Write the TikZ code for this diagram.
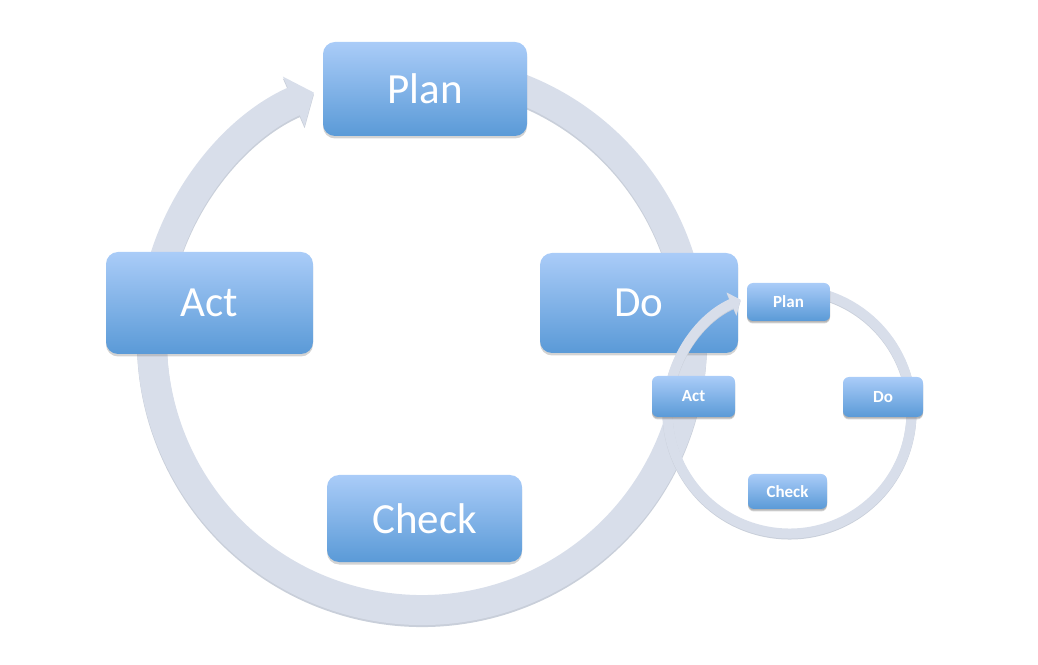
\documentclass[tikz,border=0pt]{standalone}
\usepackage{fontspec}
\setmainfont{Carlito}
\usepackage{tikz}
\usetikzlibrary{arrows.meta,shadows}
\definecolor{boxtop}{HTML}{AACCF8}
\definecolor{boxbot}{HTML}{5A9AD7}
\definecolor{ring}{HTML}{D8DEEA}
\definecolor{ringedge}{HTML}{C9CFDA}

\begin{document}
\begin{tikzpicture}[x=1pt,y=1pt]
	\tikzstyle{box}=[rounded corners=12pt,top color=boxtop,bottom color=boxbot,text=white,inner sep=0pt,
		font=\fontsize{43}{50}\selectfont,drop shadow={shadow xshift=0pt,shadow yshift=-2.5pt,opacity=0.35}]
	\tikzstyle{minibox}=[box,rounded corners=6pt,font=\fontsize{17}{20}\selectfont\bfseries,
		drop shadow={shadow xshift=0pt,shadow yshift=-1.5pt,opacity=0.35}]
	\useasboundingbox (0,0) rectangle (1038,664);
	% big cycle
	\draw[line width=30pt,ringedge,-{Triangle[width=53pt,length=22pt]}] (422,322) ++(75:270) arc[start angle=75,end angle=-246.4,radius=270];
	\draw[line width=30pt,ring,-{Triangle[width=53pt,length=22pt]}] (422,324) ++(75:270) arc[start angle=75,end angle=-246.4,radius=270];
	\node[box,minimum width=204pt,minimum height=94pt](plan) at (425,575) {Plan};
	\node[box,minimum width=198pt,minimum height=100pt](do) at (639,361) {Do};
	\node[box,minimum width=195pt,minimum height=87pt](check) at (424.5,145.5) {Check};
	\node[box,minimum width=207pt,minimum height=102pt](act) at (209.5,361) {Act};
	% small cycle
	\draw[line width=10pt,ringedge,-{Triangle[width=24pt,length=10pt]}] (789.5,251.5) ++(80:122) arc[start angle=80,end angle=-246.4,radius=122];
	\draw[line width=10pt,ring,-{Triangle[width=24pt,length=10pt]}] (789.5,252.5) ++(80:122) arc[start angle=80,end angle=-246.4,radius=122];
	\node[minibox,minimum width=83pt,minimum height=38pt](plan2) at (788.5,362) {Plan};
	\node[minibox,minimum width=80pt,minimum height=40pt](do2) at (883,267) {Do};
	\node[minibox,minimum width=79pt,minimum height=35pt](check2) at (787.5,172.5) {Check};
	\node[minibox,minimum width=83pt,minimum height=41pt](act2) at (693.5,267.5) {Act};
\end{tikzpicture}
\end{document}
